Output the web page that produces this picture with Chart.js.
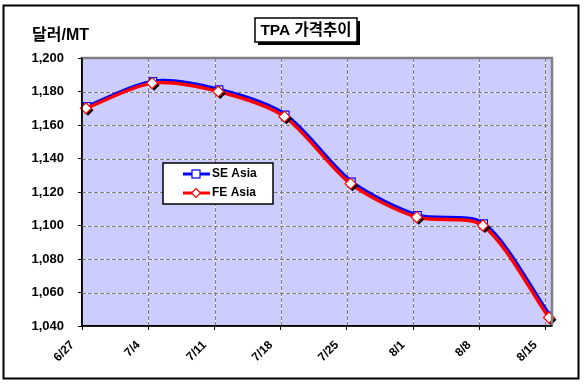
<!DOCTYPE html>
<html>
<head>
<meta charset="utf-8">
<script src="https://cdn.jsdelivr.net/npm/chart.js@4.4.1/dist/chart.umd.min.js"></script>
<style>
html,body{margin:0;padding:0;background:#fff;}
#wrap{width:585px;height:385px;position:relative;}
</style>
</head>
<body>
<div id="wrap"><canvas id="c" width="585" height="385"></canvas></div>
<script>
const categories = ['6/27', '7/4', '7/11', '7/18', '7/25', '8/1', '8/8', '8/15'];
const seAsia = [1170, 1185, 1180, 1165, 1125, 1105, 1100, 1045];
const feAsia = [1170, 1185, 1180, 1165, 1125, 1105, 1100, 1045];
const yTicks = [1040, 1060, 1080, 1100, 1120, 1140, 1160, 1180, 1200];
const chartTitle = 'TPA 가격추이';
const yUnit = '달러/MT';

const FONT = '"Liberation Sans", Arial, "Noto Sans CJK KR", sans-serif';
const PLOT = {left: 82, top: 58, right: 552, bottom: 326};

const toPts = arr => arr.map((v, i) => ({x: i, y: v}));

function diamond(ctx, x, y, r) {
  ctx.beginPath();
  ctx.moveTo(x, y - r);
  ctx.lineTo(x + r, y);
  ctx.lineTo(x, y + r);
  ctx.lineTo(x - r, y);
  ctx.closePath();
}

const decorPlugin = {
  id: 'decor',
  beforeDraw(chart) {
    const ctx = chart.ctx;
    const a = chart.chartArea;
    ctx.save();
    ctx.fillStyle = '#fff';
    ctx.fillRect(0, 0, chart.width, chart.height);
    ctx.strokeStyle = '#000';
    ctx.lineWidth = 2;
    ctx.strokeRect(3.5, 5.5, 575, 373);
    ctx.fillStyle = '#CCCCFF';
    ctx.fillRect(a.left, a.top, a.right - a.left, a.bottom - a.top);
    ctx.restore();
  },
  beforeDatasetsDraw(chart) {
    // dashed grid lines (gray dashes, white gaps) at the scales' tick positions
    const ctx = chart.ctx;
    const a = chart.chartArea;
    const xs = chart.scales.x, ys = chart.scales.y;
    const lines = [];
    xs.ticks.forEach((t, i) => {
      if (i === 0) return;
      const x = Math.round(xs.getPixelForValue(t.value)) + 0.5;
      lines.push([x, a.top, x, a.bottom]);
    });
    ys.ticks.forEach((t, i) => {
      if (i === 0 || i === ys.ticks.length - 1) return;
      const y = Math.round(ys.getPixelForValue(t.value)) + 0.5;
      lines.push([a.left, y, a.right, y]);
    });
    ctx.save();
    ctx.lineWidth = 1;
    ctx.strokeStyle = '#ffffff';
    ctx.setLineDash([]);
    lines.forEach(l => { ctx.beginPath(); ctx.moveTo(l[0], l[1]); ctx.lineTo(l[2], l[3]); ctx.stroke(); });
    ctx.strokeStyle = '#808080';
    ctx.setLineDash([4, 2]);
    lines.forEach(l => { ctx.beginPath(); ctx.moveTo(l[0], l[1]); ctx.lineTo(l[2], l[3]); ctx.stroke(); });
    ctx.restore();
  },
  beforeDatasetDraw(chart, args) {
    if (args.index === 0) {
      chart.ctx.save();
      chart.ctx.translate(1, -2);
    }
  },
  afterDatasetDraw(chart, args) {
    if (args.index === 0) chart.ctx.restore();
  },
  afterDatasetsDraw(chart) {
    const ctx = chart.ctx;
    const a = chart.chartArea;
    ctx.save();
    // markers of FE Asia with drop shadow
    const meta = chart.getDatasetMeta(1);
    const ds = chart.data.datasets[1];
    meta.data.forEach(p => {
      ctx.fillStyle = '#000';
      diamond(ctx, p.x + 2, p.y + 2, 5.5);
      ctx.fill();
    });
    meta.data.forEach(p => {
      ctx.fillStyle = '#fff';
      ctx.strokeStyle = ds.borderColor;
      ctx.lineWidth = 1.2;
      diamond(ctx, p.x, p.y, 5.5);
      ctx.fill();
      ctx.stroke();
    });

    // gray frame top/right
    ctx.strokeStyle = '#808080';
    ctx.lineWidth = 2.5;
    ctx.beginPath();
    ctx.moveTo(a.left, a.top);
    ctx.lineTo(a.right, a.top);
    ctx.lineTo(a.right, a.bottom);
    ctx.stroke();
    ctx.strokeStyle = '#000';
    ctx.lineWidth = 1.5;
    ctx.beginPath();
    ctx.moveTo(a.left, a.top);
    ctx.lineTo(a.left, a.bottom);
    ctx.lineTo(a.right, a.bottom);
    ctx.stroke();

    // title box
    const tx = 255, ty = 18, tw = 102, th = 24;
    ctx.fillStyle = '#000';
    ctx.fillRect(tx + 3, ty + 3, tw, th);
    ctx.fillStyle = '#fff';
    ctx.fillRect(tx, ty, tw, th);
    ctx.strokeStyle = '#000';
    ctx.lineWidth = 1.5;
    ctx.strokeRect(tx, ty, tw, th);
    ctx.fillStyle = '#000';
    ctx.font = 'bold 15.5px ' + FONT;
    ctx.textAlign = 'center';
    ctx.textBaseline = 'middle';
    ctx.fillText(chartTitle, tx + tw / 2, ty + th / 2 + 1);

    // y unit
    ctx.textAlign = 'left';
    ctx.font = 'bold 16px ' + FONT;
    ctx.fillText(yUnit, 32, 36);

    // legend
    const lx = 163, ly = 163, lw = 110, lh = 41;
    ctx.fillStyle = '#fff';
    ctx.fillRect(lx, ly, lw, lh);
    ctx.strokeStyle = '#000';
    ctx.lineWidth = 1.5;
    ctx.strokeRect(lx, ly, lw, lh);
    const items = chart.data.datasets;
    const rows = [174, 193];
    items.forEach((d, i) => {
      const y = rows[i];
      ctx.strokeStyle = d.borderColor;
      ctx.lineWidth = 3;
      ctx.beginPath();
      ctx.moveTo(183, y);
      ctx.lineTo(210, y);
      ctx.stroke();
      ctx.fillStyle = '#fff';
      ctx.lineWidth = 1.2;
      if (i === 0) {
        ctx.fillRect(192, y - 4, 8, 8);
        ctx.strokeRect(192, y - 4, 8, 8);
      } else {
        diamond(ctx, 196, y, 4.5);
        ctx.fill();
        ctx.stroke();
      }
      ctx.fillStyle = '#000';
      ctx.font = 'bold 12px ' + FONT;
      ctx.textAlign = 'left';
      ctx.textBaseline = 'middle';
      ctx.fillText(d.label, 212, y);
    });
    ctx.restore();
  }
};

const gridCommon = {
  color: 'rgba(0,0,0,0)',
  lineWidth: 1,
  drawTicks: true,
  tickLength: 4,
  tickColor: '#000',
  tickWidth: 1,
  tickBorderDash: []
};

new Chart(document.getElementById('c'), {
  type: 'line',
  data: {
    datasets: [
      {
        label: 'SE Asia',
        data: toPts(seAsia),
        order: 1,
        borderColor: '#0000FF',
        backgroundColor: '#fff',
        borderWidth: 3.5,
        tension: 0.28,
        pointStyle: 'rect',
        pointRadius: 5,
        pointBorderWidth: 1.2,
        pointBackgroundColor: '#fff',
        pointBorderColor: '#0000FF'
      },
      {
        label: 'FE Asia',
        data: toPts(feAsia),
        order: 0,
        borderColor: '#FF0000',
        backgroundColor: '#fff',
        borderWidth: 3.5,
        tension: 0.28,
        pointRadius: 0
      }
    ]
  },
  options: {
    responsive: false,
    animation: false,
    events: [],
    layout: {padding: {left: 0, top: PLOT.top, right: 585 - PLOT.right, bottom: 0}},
    plugins: {legend: {display: false}, tooltip: {enabled: false}, title: {display: false}},
    scales: {
      x: {
        type: 'linear',
        min: -0.06,
        max: 7.045,
        afterBuildTicks(scale) {
          scale.ticks = categories.map((c, i) => ({value: i - 0.055}));
        },
        afterFit(scale) { scale.height = 385 - PLOT.bottom; },
        ticks: {
          autoSkip: false,
          minRotation: 45,
          maxRotation: 45,
          labelOffset: -10,
          padding: 8,
          color: '#000',
          font: {family: FONT, size: 12, weight: 'bold'},
          callback: (v, i) => categories[i]
        },
        grid: gridCommon,
        border: {display: true, color: '#000', width: 1.5}
      },
      y: {
        type: 'linear',
        min: yTicks[0],
        max: yTicks[yTicks.length - 1],
        afterBuildTicks(scale) {
          scale.ticks = yTicks.map(v => ({value: v}));
        },
        afterFit(scale) { scale.width = PLOT.left; },
        ticks: {
          padding: 14,
          color: '#000',
          font: {family: FONT, size: 13, weight: 'bold'},
          callback: v => v.toLocaleString('en-US')
        },
        grid: gridCommon,
        border: {display: true, color: '#000', width: 1.5}
      }
    }
  },
  plugins: [decorPlugin]
});
</script>
</body>
</html>
